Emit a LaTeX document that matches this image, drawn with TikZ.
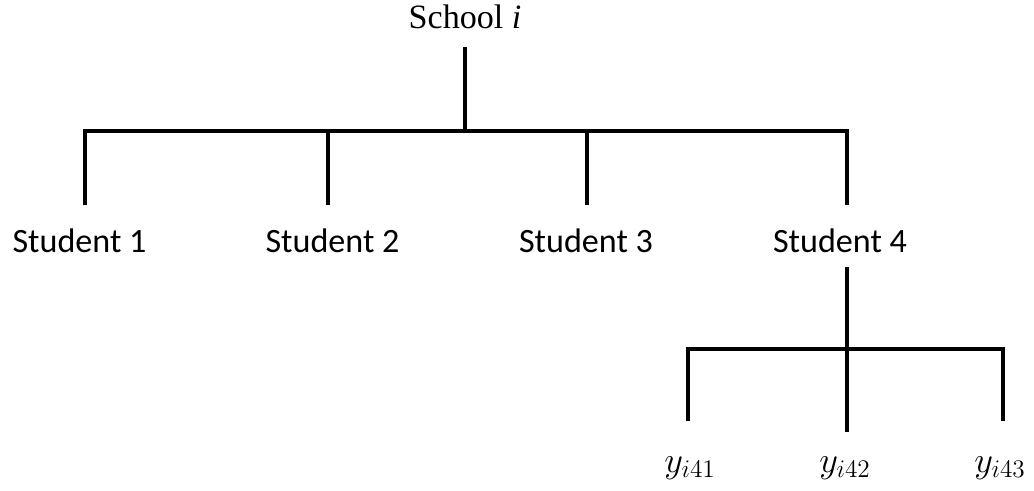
\documentclass[tikz,border=0pt]{standalone}
\usepackage{fontspec}
\setmainfont{Liberation Serif}
\newfontfamily\calibri{Carlito}
\usetikzlibrary{calc}

\begin{document}
\begin{tikzpicture}[line width=0.08cm]
    \tikzset{label/.style={inner sep=0pt,outer sep=0pt,anchor=base,font=\fontsize{19.4}{23}\selectfont},
             student/.style={label,font=\calibri\fontsize{19.4}{23}\selectfont,text height=0.94cm,text depth=0.3cm},
             leaf/.style={label,font=\fontsize{21.5}{25}\selectfont,text height=1.02cm}}
    \useasboundingbox (0,0) rectangle (20.68,-9.8);
    % school and its four students
    \node[label,text depth=0.38cm] (school) at (9.3,-0.56) {School \textit{i}};
    \coordinate (hub) at (9.3,-2.62);
    \coordinate (j1) at (1.70,-2.62);
    \coordinate (j2) at (6.56,-2.62);
    \coordinate (j3) at (11.74,-2.62);
    \coordinate (j4) at (16.94,-2.62);
    \node[student] (s1) at (1.59,-5.04) {Student 1};
    \node[student] (s2) at (6.65,-5.04) {Student 2};
    \node[student] (s3) at (11.72,-5.04) {Student 3};
    \node[student] (s4) at (16.80,-5.04) {Student 4};
    \draw (school.south) -- (hub);
    \draw (j1 |- s1.north) -- (j1) -- (j4) -- (j4 |- s4.north);
    \draw (j2) -- (j2 |- s2.north);
    \draw (j3) -- (j3 |- s3.north);
    % responses of student 4
    \coordinate (k1) at (13.76,-6.98);
    \coordinate (k2) at (16.94,-6.98);
    \coordinate (k3) at (20.06,-6.98);
    \node[leaf] (y1) at (13.80,-9.44) {$y_{i41}$};
    \node[leaf] (y2) at (16.90,-9.44) {$y_{i42}$};
    \node[leaf] (y3) at (20.00,-9.44) {$y_{i43}$};
    \draw (k2 |- s4.south) -- ([yshift=-0.22cm]k2 |- y2.north);
    \draw (k1 |- y1.north) -- (k1) -- (k3) -- (k3 |- y3.north);
\end{tikzpicture}
\end{document}
